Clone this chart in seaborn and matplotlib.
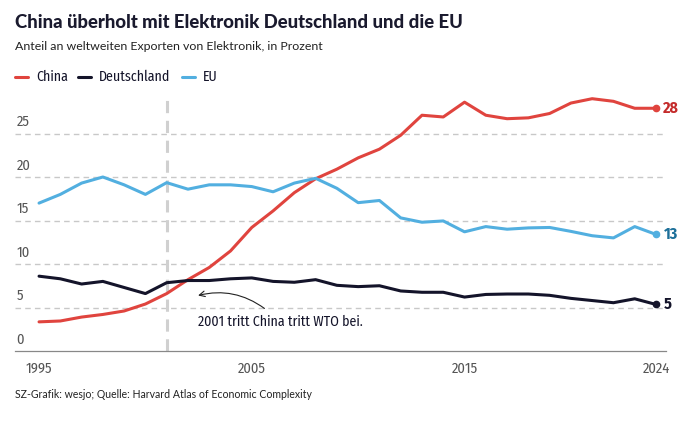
import numpy as np
import pandas as pd
import matplotlib.pyplot as plt
import seaborn as sns

years = list(range(1995, 2025))
china = [3.35, 3.45, 3.9, 4.2, 4.6, 5.4, 6.6, 8.2, 9.6, 11.5,
         14.2, 16.1, 18.2, 19.8, 20.9, 22.2, 23.2, 24.8, 27.1, 26.9,
         28.6, 27.1, 26.7, 26.8, 27.3, 28.5, 29.0, 28.7, 27.9, 27.9]
deutschland = [8.6, 8.3, 7.7, 8.0, 7.3, 6.6, 7.85, 8.1, 8.1, 8.3,
               8.4, 8.0, 7.9, 8.2, 7.55, 7.4, 7.5, 6.9, 6.75, 6.75,
               6.2, 6.5, 6.55, 6.55, 6.4, 6.05, 5.8, 5.55, 6.0, 5.35]
eu = [17.0, 18.0, 19.3, 20.0, 19.1, 18.0, 19.35, 18.6, 19.1, 19.1,
      18.9, 18.3, 19.3, 19.85, 18.7, 17.05, 17.3, 15.3, 14.8, 14.95,
      13.7, 14.3, 14.0, 14.15, 14.2, 13.75, 13.25, 13.0, 14.3, 13.4]
end_labels = {'China': '28', 'Deutschland': '5', 'EU': '13'}
y_ticks = [0, 5, 10, 15, 20, 25]
x_ticks = [1995, 2005, 2015, 2024]

colors = {'China': '#e0443e', 'Deutschland': '#14142a', 'EU': '#52afe0'}
label_colors = {'China': '#c42b2b', 'Deutschland': '#14142a', 'EU': '#1c6f99'}

df = pd.DataFrame({'Jahr': years, 'China': china,
                   'Deutschland': deutschland, 'EU': eu})
long = df.melt(id_vars='Jahr', var_name='Land', value_name='Anteil')

sns.set_style('white')
cond = ['Fira Sans Condensed', 'Barlow Semi Condensed', 'DejaVu Sans']
plt.rcParams['font.family'] = cond
title_font = ['Lato', 'DejaVu Sans']

fig = plt.figure(figsize=(6.9, 4.25), dpi=100)
ax = fig.add_axes([15 / 690, 74 / 425, 651 / 690, 261 / 425])

for yv in y_ticks[1:]:
    ax.axhline(yv, color='#c8c8c8', lw=1, ls=(0, (4, 3)), zorder=1)
for yv in y_ticks:
    ax.text(1993.95, yv + 0.5, str(yv), fontsize=10.5, color='#555555',
            ha='left', va='bottom')

ax.axvline(2001, color='#d0d0d0', lw=2.2, ls=(0, (4, 2.5)), ymax=0.98, zorder=1)

sns.lineplot(data=long, x='Jahr', y='Anteil', hue='Land', palette=colors,
             lw=2.2, ax=ax, legend=False, zorder=3)

for land in ['China', 'Deutschland', 'EU']:
    last = df[land].iloc[-1]
    ax.plot(years[-1], last, 'o', ms=4.5, color=colors[land], zorder=4)
    ax.text(years[-1] + 0.35, last, end_labels[land], fontsize=11.5,
            fontweight='bold', color=label_colors[land], ha='left', va='center')

ax.set_xlim(1993.87, 2024.47)
ax.set_ylim(0, 30)
ax.set_xticks(x_ticks)
ax.set_xticklabels([str(x) for x in x_ticks], fontsize=10.5, color='#555555')
ax.set_yticks([])
ax.tick_params(axis='x', length=5, width=0.8, color='#888888', direction='out', pad=3)
ax.set_xlabel('')
ax.set_ylabel('')
for s in ['top', 'right', 'left']:
    ax.spines[s].set_visible(False)
ax.spines['bottom'].set_color('#888888')
ax.spines['bottom'].set_linewidth(0.9)

ax.annotate('', xy=(2002.35, 6.3), xytext=(2005.7, 4.7),
            arrowprops=dict(arrowstyle='->', color='#222222', lw=0.8,
                            connectionstyle='arc3,rad=0.25'))
ax.text(2006.35, 3.3, '2001 tritt China tritt WTO bei.', fontsize=10,
        color='#14142a', ha='center', va='center')

fig.text(15 / 690, 1 - 22 / 425, 'China überholt mit Elektronik Deutschland und die EU',
         fontsize=13.3, fontweight='black', color='#1a1a2e', family=title_font,
         ha='left', va='center')
fig.text(15 / 690, 1 - 46 / 425, 'Anteil an weltweiten Exporten von Elektronik, in Prozent',
         fontsize=8.9, color='#222222', family=title_font,
         ha='left', va='center')

for land, lx in [('China', 15), ('Deutschland', 78), ('EU', 182)]:
    fig.add_artist(plt.Line2D([lx / 690, (lx + 13) / 690], [1 - 77 / 425] * 2,
                              color=colors[land], lw=2.2))
    fig.text((lx + 21) / 690, 1 - 77 / 425, land, fontsize=10, color='#14142a',
             ha='left', va='center')

fig.text(15 / 690, 1 - 394 / 425,
         'SZ-Grafik: wesjo; Quelle: Harvard Atlas of Economic Complexity',
         fontsize=7.6, color='#222222', family=title_font, ha='left', va='center')

fig.savefig('out.png', dpi=100)
